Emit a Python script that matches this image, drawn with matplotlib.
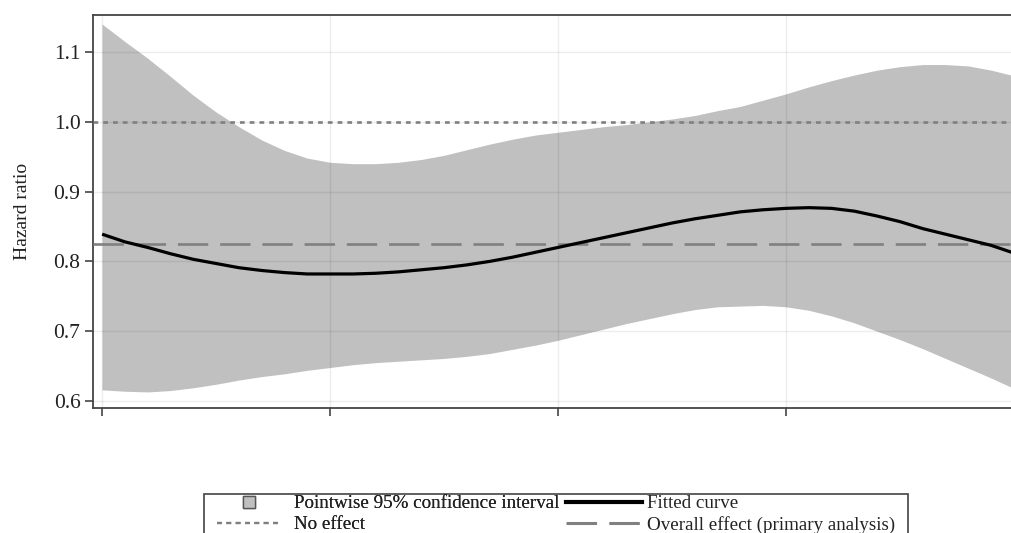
import numpy as np
import matplotlib
matplotlib.use("Agg")
import matplotlib.pyplot as plt
from matplotlib.lines import Line2D
from matplotlib.patches import Rectangle

# -------- data --------
x = [0.0, 0.1, 0.2, 0.3, 0.4, 0.5, 0.6, 0.7, 0.8, 0.9,
     1.0, 1.1, 1.2, 1.3, 1.4, 1.5, 1.6, 1.7, 1.8, 1.9,
     2.0, 2.1, 2.2, 2.3, 2.4, 2.5, 2.6, 2.7, 2.8, 2.9,
     3.0, 3.1, 3.2, 3.3, 3.4, 3.5, 3.6, 3.7, 3.8, 3.9, 4.0]
fit = [0.839, 0.828, 0.820, 0.811, 0.803, 0.797, 0.791, 0.787, 0.784, 0.782,
       0.782, 0.782, 0.783, 0.785, 0.788, 0.791, 0.795, 0.800, 0.806, 0.813,
       0.820, 0.827, 0.834, 0.841, 0.848, 0.855, 0.861, 0.866, 0.871, 0.874,
       0.876, 0.877, 0.876, 0.872, 0.865, 0.857, 0.847, 0.839, 0.831, 0.823, 0.812]
upper = [1.140, 1.115, 1.091, 1.065, 1.038, 1.014, 0.993, 0.974, 0.959, 0.948,
         0.942, 0.940, 0.940, 0.942, 0.946, 0.952, 0.960, 0.968, 0.975, 0.981,
         0.985, 0.989, 0.993, 0.996, 1.000, 1.004, 1.009, 1.016, 1.022, 1.031,
         1.040, 1.050, 1.059, 1.067, 1.074, 1.079, 1.082, 1.082, 1.080, 1.074, 1.066]
lower = [0.616, 0.614, 0.613, 0.615, 0.619, 0.624, 0.630, 0.635, 0.639, 0.644,
         0.648, 0.652, 0.655, 0.657, 0.659, 0.661, 0.664, 0.668, 0.674, 0.680,
         0.687, 0.695, 0.703, 0.711, 0.718, 0.725, 0.731, 0.735, 0.736, 0.737,
         0.735, 0.730, 0.722, 0.712, 0.700, 0.688, 0.675, 0.661, 0.647, 0.633, 0.618]
no_effect = 1.0
overall = 0.825
yticks = [0.6, 0.7, 0.8, 0.9, 1.0, 1.1]
xticks = [0, 1, 2, 3]

BAND = "#c0c0c0"
REF = "#808080"
TXT = "#222222"

plt.rcParams["font.family"] = ["Liberation Serif", "DejaVu Serif"]

fig = plt.figure(figsize=(10.12, 5.33), dpi=100)
ax = fig.add_axes([93 / 1012, 1 - 408 / 533, 930 / 1012, 393 / 533])

ax.fill_between(x, lower, upper, color=BAND, lw=0, zorder=1)
ax.axhline(no_effect, color=REF, lw=1.9, dashes=(1.8, 1.9), zorder=3)
ax.axhline(overall, color=REF, lw=1.9, dashes=(11.5, 4.5), zorder=3)
ax.plot(x, fit, color="black", lw=2.3, zorder=4, solid_capstyle="butt")

ax.set_xlim(-0.04, 4.04)
ax.set_ylim(0.59, 1.153)
ax.set_yticks(yticks)
ax.set_yticklabels([f"{v:.1f}" for v in yticks])
ax.set_xticks(xticks)
ax.set_xticklabels([])
ax.grid(True, color="black", alpha=0.07, lw=1, zorder=2)
ax.set_axisbelow(False)

for s in ["left", "top", "bottom"]:
    ax.spines[s].set_color("#444444")
    ax.spines[s].set_linewidth(1.3)
ax.spines["right"].set_visible(False)
ax.tick_params(axis="y", length=6, width=1.2, color="#444444", labelsize=15.5,
               labelcolor=TXT, pad=3)
ax.tick_params(axis="x", length=6, width=1.2, color="#444444")
ax.set_ylabel("Hazard ratio", fontsize=14, color=TXT, labelpad=16)

# legend: two columns inside one frame
h_ci = Line2D([], [], marker="s", ms=9, mfc=BAND, mec="#555555", mew=1, ls="none")
h_no = Line2D([], [], color=REF, lw=1.6, dashes=(2.2, 2.0))
h_fit = Line2D([], [], color="black", lw=3)
h_all = Line2D([], [], color=REF, lw=2.2, dashes=(10, 4))

leg_kw = dict(loc="upper left", frameon=False, fontsize=13.7, borderpad=0,
              borderaxespad=0, labelspacing=0.2, labelcolor=TXT)
leg1 = fig.legend([h_ci, h_no], ["Pointwise 95% confidence interval", "No effect"],
                  bbox_to_anchor=(217 / 1012, 1 - 495 / 533),
                  handlelength=3.35, handletextpad=0.72, **leg_kw)
leg2 = fig.legend([h_fit, h_all], ["Fitted curve", "Overall effect (primary analysis)"],
                  bbox_to_anchor=(566 / 1012, 1 - 495 / 533),
                  handlelength=4.0, handletextpad=0.26, **leg_kw)
fig.add_artist(leg1)
fig.patches.append(Rectangle((204 / 1012, -0.1), 704 / 1012, 0.1 + 39 / 533,
                             transform=fig.transFigure, fill=False,
                             edgecolor="#444444", lw=1.2))

fig.savefig("out.png", dpi=100)
